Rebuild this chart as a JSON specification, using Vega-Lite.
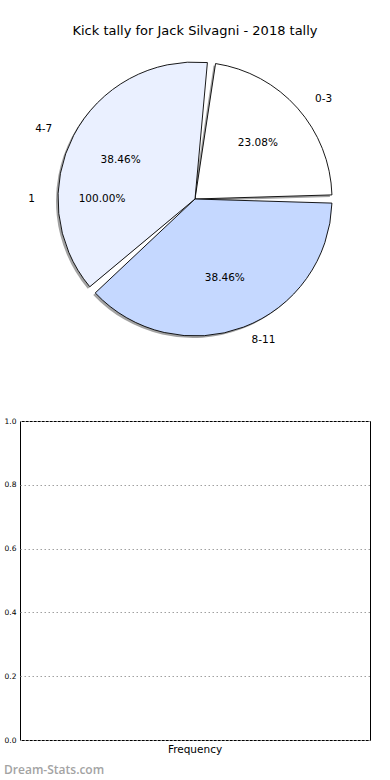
{
  "$schema": "https://vega.github.io/schema/vega-lite/v6.json",
  "background": "white",
  "padding": {"left": 3, "top": 25, "right": 0, "bottom": 0},
  "spacing": 63,
  "config": {
    "font": "DejaVu Sans",
    "view": {"stroke": null},
    "title": {"font": "DejaVu Sans", "fontWeight": "normal", "color": "black"}
  },
  "vconcat": [
    {
      "width": 350,
      "height": 308,
      "title": {"text": "Kick tally for Jack Silvagni - 2018 tally", "fontSize": 13, "anchor": "middle", "offset": 7},
      "layer": [
        {
          "data": {"values": [
            {"label": "0-3", "pct": 23.08, "text": "23.08%"},
            {"label": "4-7", "pct": 38.46, "text": "38.46%"},
            {"label": "8-11", "pct": 38.46, "text": "38.46%"}
          ]},
          "mark": {"type": "arc", "radius": 137, "padAngle": 0.06, "fill": "#555555", "fillOpacity": 0.55, "xOffset": -2, "yOffset": 2},
          "encoding": {
            "theta": {"field": "pct", "type": "quantitative", "stack": true, "scale": {"domain": [0, 100], "range": [1.5708, -4.7124]}},
            "detail": {"field": "label", "type": "nominal"}
          }
        },
        {
          "data": {"values": [
            {"label": "0-3", "pct": 23.08, "text": "23.08%"},
            {"label": "4-7", "pct": 38.46, "text": "38.46%"},
            {"label": "8-11", "pct": 38.46, "text": "38.46%"}
          ]},
          "layer": [
            {
              "mark": {"type": "arc", "radius": 137, "padAngle": 0.06, "stroke": "black", "strokeWidth": 0.9},
              "encoding": {
                "theta": {"field": "pct", "type": "quantitative", "stack": true},
                "color": {"field": "label", "type": "nominal", "legend": null,
                  "scale": {"domain": ["0-3", "4-7", "8-11"], "range": ["#ffffff", "#eaf0ff", "#c5d8ff"]}}
              }
            },
            {
              "mark": {"type": "text", "radius": 151, "fontSize": 10.5, "color": "black", "baseline": "middle",
                "align": {"expr": "datum.label == '4-7' ? 'right' : 'left'"},
                "dx": {"expr": "datum.label == '4-7' ? -9 : (datum.label == '0-3' ? 7 : 3)"}},
              "encoding": {
                "theta": {"field": "pct", "type": "quantitative", "stack": true},
                "text": {"field": "label"}
              }
            },
            {
              "mark": {"type": "text", "radius": 84, "fontSize": 10.5, "color": "black", "baseline": "middle"},
              "encoding": {
                "theta": {"field": "pct", "type": "quantitative", "stack": true},
                "text": {"field": "text"}
              }
            }
          ]
        },
        {
          "data": {"values": [{"label": "1", "pct": 100, "text": "100.00%"}]},
          "layer": [
            {
              "mark": {"type": "text", "radius": 151, "fontSize": 10.5, "color": "black", "baseline": "middle", "align": "right", "dx": -9},
              "encoding": {
                "theta": {"field": "pct", "type": "quantitative", "stack": true},
                "text": {"field": "label"}
              }
            },
            {
              "mark": {"type": "text", "radius": 84, "fontSize": 10.5, "color": "black", "baseline": "middle", "dx": -9},
              "encoding": {
                "theta": {"field": "pct", "type": "quantitative", "stack": true},
                "text": {"field": "text"}
              }
            }
          ]
        }
      ]
    },
    {
      "width": 350,
      "height": 319,
      "view": {"stroke": "black", "strokeWidth": 1},
      "title": {"text": "Dream-Stats.com", "orient": "bottom", "anchor": "start", "frame": "bounds", "fontSize": 12, "font": "Open Sans", "fontWeight": 600, "color": "#a3a3a3", "offset": 10},
      "data": {"values": [{"category": "Frequency", "value": 0}]},
      "mark": {"type": "bar", "color": "#c5d8ff"},
      "encoding": {
        "x": {"field": "category", "type": "nominal", "axis": {"title": null, "labelAngle": 0, "ticks": false, "domain": false, "labelFontSize": 10.5, "labelColor": "black", "labelPadding": 4}},
        "y": {"field": "value", "type": "quantitative", "scale": {"domain": [0, 1], "nice": false},
          "axis": {"title": null, "values": [0, 0.2, 0.4, 0.6, 0.8, 1.0], "format": ".1f", "labelFontSize": 7.5, "labelColor": "black", "ticks": false, "domain": false, "labelPadding": 4,
            "grid": true, "gridDash": [1.5, 2.5], "gridColor": "#a0a0a0", "gridWidth": 1}}
      }
    }
  ]
}
